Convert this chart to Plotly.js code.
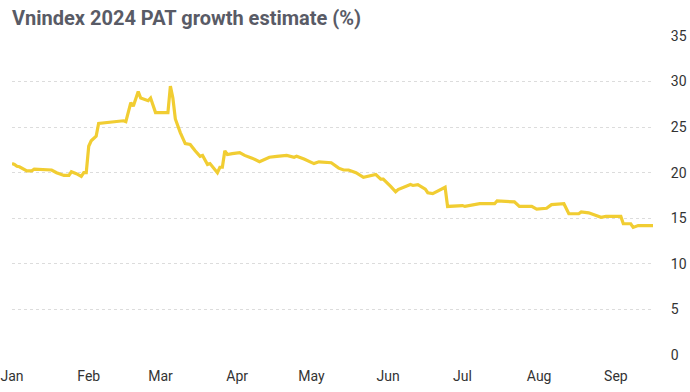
<!DOCTYPE html>
<html>
<head>
<meta charset="utf-8">
<script src="https://cdn.plot.ly/plotly-3.0.1.min.js"></script>
<style>html,body{margin:0;padding:0;background:#fff;}#chart{width:690px;height:392px;}</style>
</head>
<body>
<div id="chart"></div>
<script>
const dates = [
 "2024-01-01","2024-01-02","2024-01-03","2024-01-04","2024-01-07","2024-01-09","2024-01-10","2024-01-17","2024-01-19","2024-01-22",
 "2024-01-24","2024-01-25","2024-01-27","2024-01-29","2024-01-30","2024-01-31","2024-02-01","2024-02-02","2024-02-04","2024-02-05",
 "2024-02-15","2024-02-16","2024-02-18","2024-02-19","2024-02-21","2024-02-22","2024-02-25","2024-02-26","2024-02-28","2024-03-04",
 "2024-03-05","2024-03-06","2024-03-07","2024-03-09","2024-03-11","2024-03-13","2024-03-15","2024-03-17","2024-03-18","2024-03-20",
 "2024-03-21","2024-03-24","2024-03-25","2024-03-26","2024-03-27","2024-03-28","2024-03-30","2024-04-02","2024-04-04","2024-04-07",
 "2024-04-10","2024-04-14","2024-04-17","2024-04-21","2024-04-24","2024-04-25","2024-04-28","2024-05-02","2024-05-04","2024-05-09",
 "2024-05-12","2024-05-14","2024-05-16","2024-05-19","2024-05-22","2024-05-27","2024-05-29","2024-05-30","2024-06-02","2024-06-04",
 "2024-06-05","2024-06-10","2024-06-11","2024-06-13","2024-06-16","2024-06-17","2024-06-19","2024-06-24","2024-06-25","2024-07-01",
 "2024-07-02","2024-07-08","2024-07-14","2024-07-15","2024-07-22","2024-07-24","2024-07-29","2024-07-31","2024-08-04","2024-08-06",
 "2024-08-11","2024-08-13","2024-08-17","2024-08-18","2024-08-21","2024-08-26","2024-08-28","2024-09-03","2024-09-04","2024-09-07",
 "2024-09-08","2024-09-10","2024-09-16"
];
const growth = [
 21.0,20.9,20.7,20.65,20.2,20.2,20.4,20.3,20.0,19.7,
 19.7,20.1,19.9,19.6,20.0,20.0,22.9,23.5,24.0,25.4,
 25.7,25.6,27.7,27.3,28.9,28.2,27.9,28.2,26.6,26.6,
 29.5,28.2,25.9,24.4,23.2,23.1,22.4,21.8,21.9,20.9,
 21.0,20.0,20.6,20.6,22.4,22.0,22.1,22.2,21.9,21.6,
 21.2,21.7,21.8,21.9,21.7,21.8,21.5,21.0,21.2,21.1,
 20.5,20.3,20.3,20.0,19.5,19.8,19.3,19.3,18.5,17.9,
 18.15,18.7,18.6,18.7,18.2,17.8,17.7,18.4,16.3,16.4,
 16.3,16.6,16.6,16.9,16.8,16.3,16.3,16.0,16.1,16.5,
 16.6,15.5,15.5,15.7,15.6,15.1,15.2,15.2,14.4,14.4,
 14.0,14.2,14.2
];
const yTicks = [0,5,10,15,20,25,30,35];
const xTickVals = ["2024-01-01","2024-02-01","2024-03-01","2024-04-01","2024-05-01","2024-06-01","2024-07-01","2024-08-01","2024-09-01"];
const xTickText = ["Jan","Feb","Mar","Apr","May","Jun","Jul","Aug","Sep"];
const titleText = "Vnindex 2024 PAT growth estimate (%)";

const trace = {
  x: dates, y: growth, type: 'scatter', mode: 'lines',
  line: {color: '#f1cd32', width: 3.2, shape: 'linear'},
  hoverinfo: 'x+y'
};
const layout = {
  width: 690, height: 392,
  margin: {l: 12, r: 37, t: 36, b: 37},
  paper_bgcolor: '#fff', plot_bgcolor: '#fff',
  font: {family: 'Roboto, sans-serif', color: '#333'},
  showlegend: false,
  title: {
    text: '<b>' + titleText + '</b>',
    font: {family: 'Roboto, sans-serif', size: 20, color: '#595b66'},
    x: 0, xref: 'paper', xanchor: 'left',
    y: 1 - 18/392, yref: 'container', yanchor: 'middle'
  },
  xaxis: {
    type: 'date', range: [dates[0], dates[dates.length-1]],
    tickvals: xTickVals, ticktext: xTickText,
    showgrid: false, zeroline: false, showline: false,
    ticks: 'outside', ticklen: 8, tickcolor: 'rgba(0,0,0,0)',
    tickfont: {size: 14, color: '#333'}
  },
  yaxis: {
    side: 'right', range: [0, 35], tickvals: yTicks,
    showgrid: true, gridcolor: '#dcdcdc', griddash: 'dot', gridwidth: 1,
    zeroline: false, showline: false,
    ticks: 'outside', ticklen: 14, tickcolor: 'rgba(0,0,0,0)',
    tickfont: {size: 14, color: '#333'}
  }
};
Plotly.newPlot('chart', [trace], layout, {displayModeBar: false, staticPlot: true});
</script>
</body>
</html>
